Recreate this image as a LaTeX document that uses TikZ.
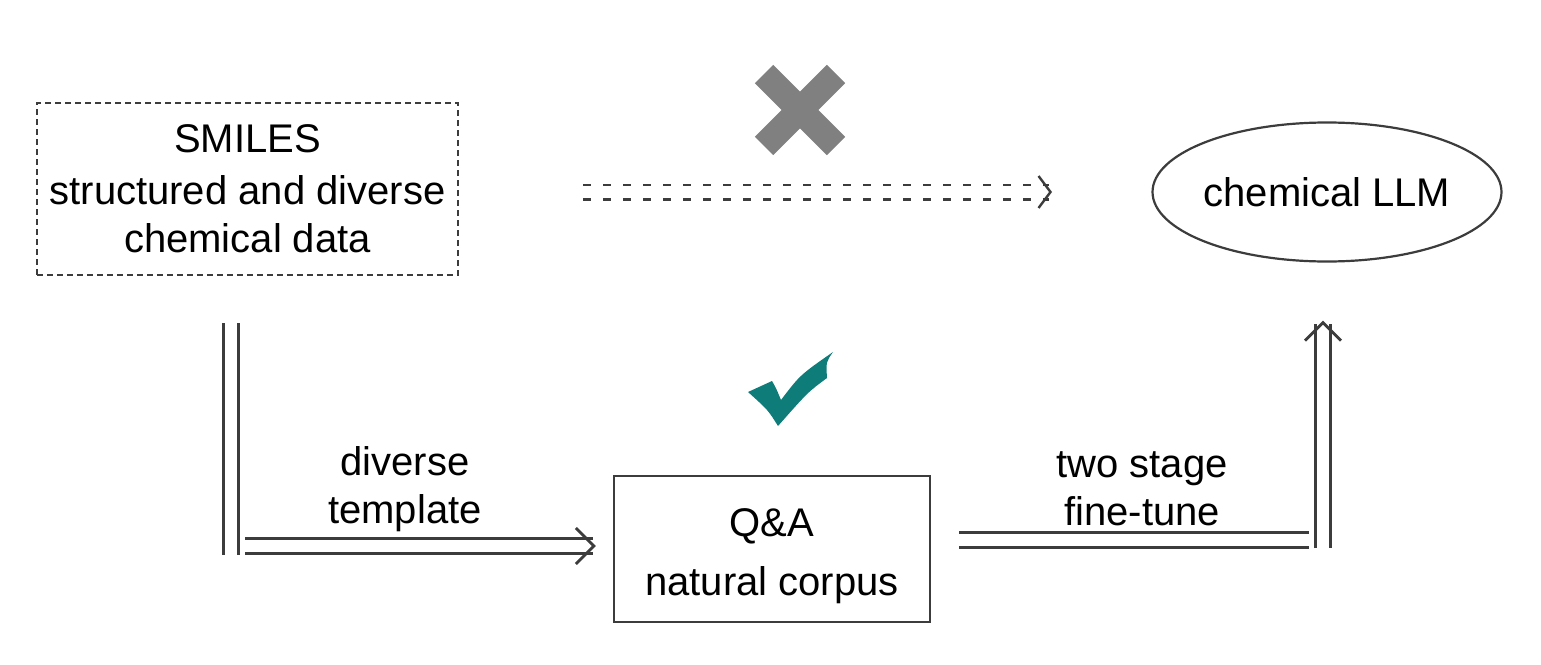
\documentclass[tikz,border=0pt]{standalone}
\usepackage{fontspec}
\setmainfont{Liberation Sans}
\usetikzlibrary{positioning, arrows.meta, shapes.geometric}

\definecolor{crossgray}{RGB}{128,128,128}
\definecolor{checkteal}{RGB}{14,124,121}
\definecolor{linegray}{RGB}{60,60,60}

\begin{document}
\begin{tikzpicture}[x=0.5pt, y=-0.5pt, line width=1.1pt, draw=linegray,
    font=\fontsize{20}{24}\selectfont,
    databox/.style={draw=linegray, dash pattern=on 3pt off 2pt, align=center, minimum width=210.5pt, minimum height=86pt, inner sep=0pt},
    corpusbox/.style={draw=linegray, align=center, minimum width=158pt, minimum height=73pt, inner sep=0pt},
    modelnode/.style={draw=linegray, ellipse, minimum width=172.5pt, minimum height=69.5pt, inner sep=0pt},
    dblline/.style={draw=linegray, double, double distance=6.1pt, line width=1.4pt},
    dblarrow/.style={dblline, -{Straight Barb[length=9pt, width=18pt, line width=1.4pt]}},
    every node/.style={align=center}]
    \useasboundingbox (0,0) rectangle (1541,664);

    % Nodes
    \node[databox] (smiles) at (247.5,189) {SMILES\\[2pt] structured and diverse\\ chemical data};
    \node[modelnode] (llm) at (1327,192) {chemical LLM};
    \node[corpusbox] (qa) at (772,549) {\rule{0pt}{20.8pt}Q\&A\\[5.5pt] natural corpus};

    % Direct path: not usable
    \coordinate (d0) at (583,192);
    \coordinate (d1) at (1052,192);
    \draw[dblline, dash pattern=on 4pt off 6pt, line width=1.2pt,
        -{Straight Barb[length=6pt, width=16pt, line width=1.2pt]}] (d0) -- (d1);
    \draw[crossgray, line width=13pt] (764,74) -- (836,146) (764,146) -- (836,74);

    % Template path
    \coordinate (c1) at (231,546);
    \draw[dblline] ([yshift=-23.5pt]smiles.south -| c1) -- ([yshift=-4.5pt]c1);
    \draw[dblarrow, shorten >=8.5pt] ([xshift=7pt]c1) -- (qa.west |- c1)
        node[midway, above=3pt, xshift=-12pt] {diverse\\ template};
    \fill[checkteal] (748,392) -- (772,381) .. controls (776,388) .. (781,400)
        .. controls (800,375) .. (833,352) .. controls (826,362) .. (827,378)
        .. controls (808,392) .. (778,426) .. controls (768,410) .. (748,392) -- cycle;

    % Fine-tune path
    \coordinate (c2) at (1323,540);
    \draw[dblline, shorten <=14pt] (qa.east |- c2) -- ([xshift=-7pt]c2)
        node[midway, above=3pt, xshift=11pt] {two stage\\ fine-tune};
    \draw[dblarrow, shorten >=29pt] ([yshift=-4pt]c2) -- (llm.south -| c2);
\end{tikzpicture}
\end{document}
